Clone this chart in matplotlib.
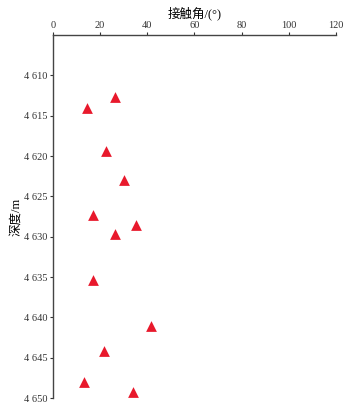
import matplotlib
matplotlib.use('Agg')
import matplotlib.pyplot as plt
from matplotlib.ticker import FuncFormatter

plt.rcParams['font.family'] = ['Liberation Serif', 'Noto Sans CJK SC']

# 接触角与深度数据
angle = [26.3, 14.3, 22.7, 30.1, 17.0, 35.2, 26.3, 17.0, 41.4, 21.6, 13.0, 34.0]
depth = [4612.7, 4614.0, 4619.4, 4622.9, 4627.3, 4628.6, 4629.7, 4635.3, 4641.0, 4644.1, 4648.0, 4649.2]
xticks = [0, 20, 40, 60, 80, 100, 120]
yticks = [4610, 4615, 4620, 4625, 4630, 4635, 4640, 4645, 4650]

fig = plt.figure(figsize=(3.55, 4.13), dpi=100)
ax = fig.add_axes([0.149, 0.036, 0.797, 0.879])

ax.scatter(angle, depth, marker='^', s=60, color='#e8192c', linewidths=0, zorder=3)

ax.set_xlim(0, 120)
ax.set_ylim(4650, 4605)
ax.set_xticks(xticks)
ax.set_yticks(yticks)
ax.yaxis.set_major_formatter(FuncFormatter(lambda v, p: '{:,}'.format(int(v)).replace(',', ' ')))

ax.xaxis.tick_top()
ax.xaxis.set_label_position('top')
ax.spines['right'].set_visible(False)
ax.spines['bottom'].set_visible(False)
for s in ['left', 'top']:
    ax.spines[s].set_color('#444444')
    ax.spines[s].set_linewidth(1.0)
ax.tick_params(direction='out', length=2.5, width=0.8, labelsize=7.5, colors='#333333', pad=1.5)

ax.set_xlabel('接触角/(°)', fontsize=9, labelpad=2)
ax.set_ylabel('深度/m', fontsize=9, labelpad=1)

fig.savefig('out.png', dpi=100)
